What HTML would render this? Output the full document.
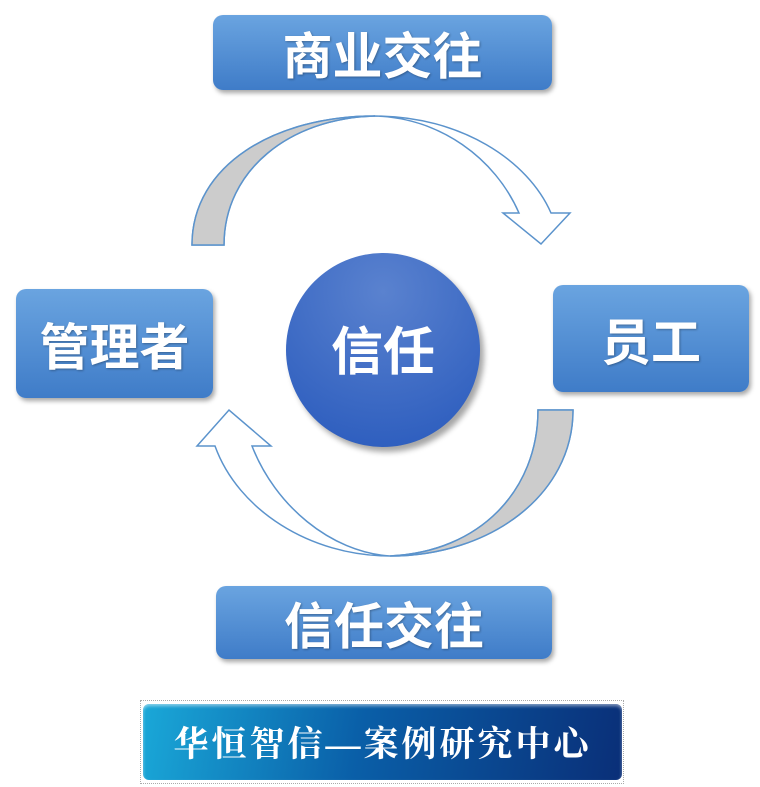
<!DOCTYPE html>
<html><head><meta charset="utf-8"><style>
body{margin:0;width:760px;height:787px;background:#fff;position:relative;overflow:hidden;font-family:"Liberation Sans","Noto Sans CJK SC",sans-serif}
.box{position:absolute;border-radius:10px;background:linear-gradient(#6aa4e0,#3f7cc8);box-shadow:2px 3px 5px rgba(0,0,0,.35);color:#fff;font-weight:bold;display:flex;align-items:center;justify-content:center;text-shadow:1px 1px 2px rgba(0,0,0,.3)}
</style></head><body>
<svg width="760" height="787" style="position:absolute;left:0;top:0">
<path d="M192,245 C192,165 275,116 375,116 C460,116 528,160 551,213 L570,213 L541,244 L503,213 L519,213 C495,158 440,118 375,116 C290,118 224,170 224,245 Z" fill="#fff" stroke="#5b93cc" stroke-width="1.5"/>
<path d="M192,245 C192,165 275,116 375,116 C290,118 224,170 224,245 Z" fill="#cccccc" stroke="#5b93cc" stroke-width="1.5"/>
<path d="M573,410 C573,495 490,556 390,556 C310,556 238,510 215,446 L197,446 L229,410 L271,446 L252,446 C275,505 330,552 390,556 C480,552 538,490 538,410 Z" fill="#fff" stroke="#5b93cc" stroke-width="1.5"/>
<path d="M573,410 C573,495 490,556 390,556 C480,552 538,490 538,410 Z" fill="#cccccc" stroke="#5b93cc" stroke-width="1.5"/>
<defs><radialGradient id="g" cx="50%" cy="20%" r="80%"><stop offset="0" stop-color="#5a82cf"/><stop offset="1" stop-color="#2f5fbf"/></radialGradient>
<filter id="b"><feGaussianBlur stdDeviation="3"/></filter></defs>
<circle cx="387" cy="355" r="97" fill="#000" opacity=".35" filter="url(#b)"/>
<circle cx="383" cy="350" r="97" fill="url(#g)"/>
<text x="383" y="370" font-size="52" font-weight="bold" fill="#fff" text-anchor="middle" font-family="Liberation Sans,Noto Sans CJK SC,sans-serif">信任</text>
</svg>
<div class="box" style="left:213px;top:15px;width:339px;height:75px;font-size:50px">商业交往</div>
<div class="box" style="left:16px;top:289px;width:197px;height:109px;font-size:50px">管理者</div>
<div class="box" style="left:553px;top:285px;width:196px;height:107px;font-size:50px">员工</div>
<div class="box" style="left:216px;top:586px;width:336px;height:73px;font-size:50px">信任交往</div>
<div style="position:absolute;left:140px;top:700px;width:484px;height:84px;border:1px dotted #aaa;box-sizing:border-box"></div>
<div style="position:absolute;left:143px;top:704px;width:479px;height:76px;border-radius:6px;background:linear-gradient(100deg,#1aa8d8,#0a5fa8 45%,#0a2f78);box-shadow:inset 0 2px 3px rgba(255,255,255,.5);color:#fff;font-size:35px;font-weight:bold;font-family:'Liberation Serif','Noto Serif CJK SC',serif;display:flex;align-items:center;justify-content:center;letter-spacing:3px">华恒智信—案例研究中心</div>
</body></html>
